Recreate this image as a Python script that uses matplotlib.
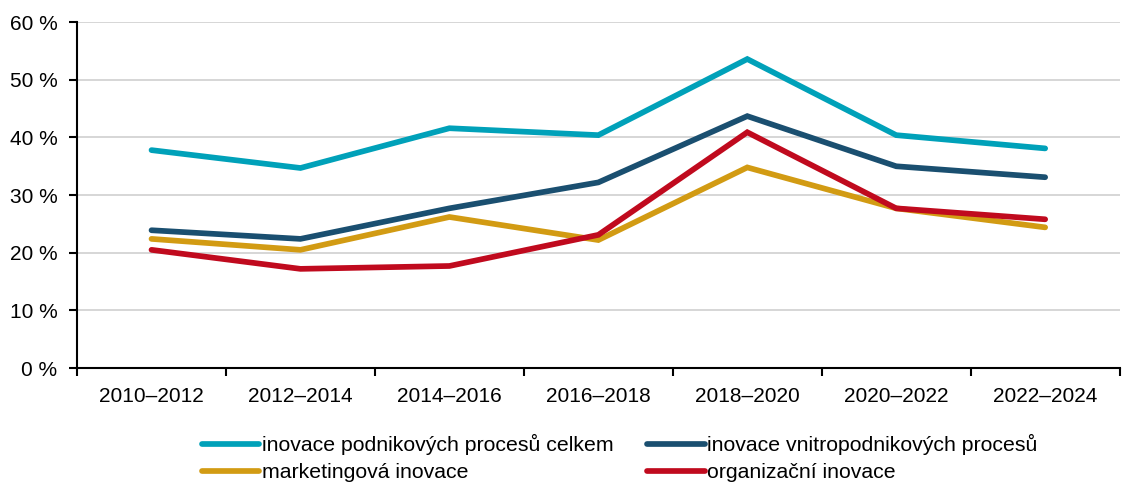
import matplotlib.pyplot as plt
from matplotlib.ticker import FuncFormatter, FixedLocator

plt.rcParams['font.family'] = ['Liberation Sans', 'DejaVu Sans']

periods = ['2010–2012', '2012–2014', '2014–2016', '2016–2018',
           '2018–2020', '2020–2022', '2022–2024']

celkem = [37.8, 34.7, 41.6, 40.4, 53.6, 40.4, 38.1]
vnitro = [23.9, 22.4, 27.7, 32.2, 43.7, 35.0, 33.1]
marketing = [22.4, 20.5, 26.2, 22.2, 34.8, 27.7, 24.4]
organizacni = [20.5, 17.2, 17.7, 23.1, 40.9, 27.7, 25.8]

series = [
    ('inovace podnikových procesů celkem', celkem, '#00A1B9'),
    ('marketingová inovace', marketing, '#D29B13'),
    ('inovace vnitropodnikových procesů', vnitro, '#1A4F70'),
    ('organizační inovace', organizacni, '#C00A1E'),
]

fig = plt.figure(figsize=(11.23, 4.82), dpi=100)
ax = fig.add_axes([0.0686, 0.2365, 0.9284, 0.7175])

x = list(range(len(periods)))
lines = {}
for label, vals, color in series:
    ln, = ax.plot(x, vals, color=color, lw=4.1, solid_capstyle='round',
                  solid_joinstyle='miter', label=label)
    lines[label] = ln

ax.set_xlim(-0.5, len(periods) - 0.5)
ax.set_ylim(0, 60)
ax.set_yticks(range(0, 61, 10))
ax.yaxis.set_major_formatter(FuncFormatter(lambda v, p: f'{int(v)} %'))
ax.grid(axis='y', color='#D0D0D0', lw=1.2)
ax.set_axisbelow(True)

# category labels between boundary ticks
ax.set_xticks(x)
ax.set_xticklabels(periods)
ax.tick_params(axis='x', which='major', length=0, pad=14, labelsize=15)
ax.xaxis.set_minor_locator(FixedLocator([i - 0.5 for i in range(len(periods) + 1)]))
ax.tick_params(axis='x', which='minor', length=6, width=1.5, color='black')
ax.tick_params(axis='y', length=6, width=1.5, labelsize=15, pad=8)

for s in ['top', 'right']:
    ax.spines[s].set_visible(False)
for s in ['left', 'bottom']:
    ax.spines[s].set_linewidth(1.5)

leg = fig.legend(handles=[lines[s[0]] for s in series], ncol=2, frameon=False,
                 loc='lower left', bbox_to_anchor=(0.172, -0.018),
                 fontsize=15.3, handlelength=2.7, handletextpad=0.12,
                 columnspacing=1.6, labelspacing=0.38, borderaxespad=0)

fig.savefig('out.png', dpi=100)
